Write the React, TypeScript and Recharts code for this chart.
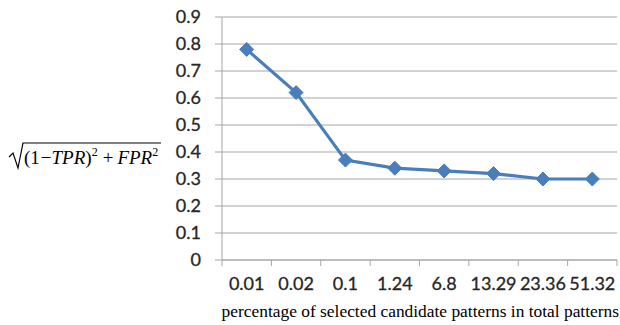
import React from "react";
import { LineChart, Line, XAxis, YAxis, CartesianGrid } from "recharts";

const categories = ["0.01", "0.02", "0.1", "1.24", "6.8", "13.29", "23.36", "51.32"];
const distance = [0.78, 0.62, 0.37, 0.34, 0.33, 0.32, 0.3, 0.3];
const yTicks = [0, 0.1, 0.2, 0.3, 0.4, 0.5, 0.6, 0.7, 0.8, 0.9];

const data = categories.map((c, i) => ({ name: c, value: distance[i] }));

const W = 620;
const H = 325;
const margin = { top: 17, right: 3, bottom: 35, left: 172 };
const plotW = W - margin.left - margin.right - 50;
const band = plotW / categories.length;

const AXIS = "#a6a6a6";
const BLUE = "#4a7ebb";
const TICK_FONT = "Lato, 'Open Sans', sans-serif";
const SERIF = "'Liberation Serif', 'Times New Roman', serif";

// category ticks: label centred in the band, tick marks on band boundaries
const XTick = (props: any) => {
  const { x, y, payload, index } = props;
  const left = x - band / 2;
  return (
    <g>
      <line x1={left} y1={y - 8} x2={left} y2={y - 2} stroke={AXIS} />
      {index === categories.length - 1 && (
        <line x1={x + band / 2} y1={y - 8} x2={x + band / 2} y2={y - 2} stroke={AXIS} />
      )}
      <text
        x={x}
        y={y + 22}
        textAnchor="middle"
        fontSize={18}
        fill="#262626"
        stroke="#262626"
        strokeWidth={0.3}
        fontFamily={TICK_FONT}
      >
        {payload.value}
      </text>
    </g>
  );
};

const Diamond = (props: any) => {
  const { cx, cy } = props;
  if (cx == null || cy == null) return null;
  const r = 7;
  return (
    <path
      d={`M${cx},${cy - r} L${cx + r},${cy} L${cx},${cy + r} L${cx - r},${cy} Z`}
      fill={BLUE}
      stroke={BLUE}
    />
  );
};

// sqrt((1 - TPR)^2 + FPR^2)
const Formula = () => (
  <g fontFamily={SERIF} fill="#000">
    <path d="M9,157 L13,153 L18,168 L23,143 L161,143" stroke="#000" strokeWidth={1.2} fill="none" />
    <text x={24} y={164} fontSize={19}>
      <tspan>(1</tspan>
      <tspan dx={1}>−</tspan>
      <tspan fontStyle="italic">TPR</tspan>
      <tspan>)</tspan>
      <tspan fontSize={12} dy={-8}>2</tspan>
      <tspan dy={8} dx={5}>+</tspan>
      <tspan dx={4} fontStyle="italic">FPR</tspan>
      <tspan fontSize={12} dy={-8}>2</tspan>
    </text>
  </g>
);

export default function App() {
  return (
    <div style={{ width: W, height: H, background: "#fff" }}>
      <style>{`body{margin:0}`}</style>
      <LineChart width={W} height={H} data={data} margin={margin}>
        <CartesianGrid vertical={false} stroke={AXIS} strokeWidth={1} />
        <XAxis
          dataKey="name"
          scale="band"
          stroke={AXIS}
          tickLine={false}
          height={30}
          interval={0}
          tick={<XTick />}
        />
        <YAxis
          domain={[0, 0.9]}
          ticks={yTicks}
          width={50}
          stroke={AXIS}
          tickSize={7}
          tickMargin={14}
          tickFormatter={(v: number) => (v === 0 ? "0" : v.toFixed(1))}
          tick={{ fontSize: 18, fill: "#262626", stroke: "#262626", strokeWidth: 0.3, fontFamily: TICK_FONT }}
          label={{ content: () => <Formula /> }}
        />
        <Line
          dataKey="value"
          stroke={BLUE}
          strokeWidth={3.2}
          dot={<Diamond />}
          activeDot={false}
          isAnimationActive={false}
        />
        <text x={W - 1} y={317} textAnchor="end" fontSize={17.4} fontFamily={SERIF} fill="#000">
          percentage of selected candidate patterns in total patterns
        </text>
      </LineChart>
    </div>
  );
}
